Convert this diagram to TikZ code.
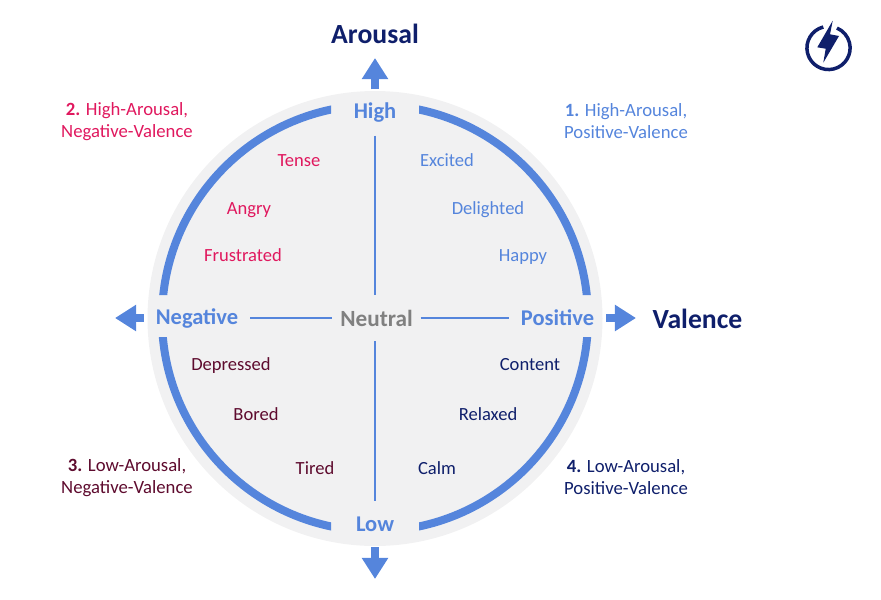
\documentclass[tikz,border=0pt]{standalone}
\usepackage{fontspec}
\setmainfont{Carlito}
\usepackage{xcolor}
\usetikzlibrary{arrows.meta, positioning}
\definecolor{axisblue}{HTML}{5585DC}
\definecolor{navy}{HTML}{0F1F6B}
\definecolor{rosered}{HTML}{E0185E}
\definecolor{wine}{HTML}{5E0B2E}
\definecolor{discgray}{HTML}{F1F1F2}

\begin{document}
\begin{tikzpicture}[
  x=0.025cm, y=-0.025cm,
  axislbl/.style={font=\fontsize{16}{19}\selectfont\bfseries, text=axisblue, inner xsep=0.3cm, inner ysep=0pt, outer sep=0pt, minimum height=1.15cm},
  titlelbl/.style={font=\fontsize{19.7}{23}\selectfont\bfseries, text=navy},
  word/.style={font=\fontsize{13.2}{16}\selectfont, text height=1.1em, text depth=0.18em},
  quadlbl/.style={font=\fontsize{13.3}{15.6}\selectfont, align=center},
  thinline/.style={draw=axisblue, line width=0.05cm},
  blockarr/.style={draw=axisblue, line width=0.2cm, -{Triangle[length=0.53cm, width=0.63cm]}}
]
  \useasboundingbox (0,0) rectangle (881,599);
  \fill[discgray] (375,318.5) circle [radius=227.5];
  \begin{scope}
    \clip (140,80) rectangle (331,295) (419,80) rectangle (610,295)
          (140,337) rectangle (331,560) (419,337) rectangle (610,560);
    \draw[axisblue, line width=0.2cm] (375,318) circle [radius=213];
  \end{scope}

  \node[axislbl] (high) at (375,112.5) {High};
  \node[axislbl] (low) at (375,524) {Low};
  \node[axislbl] (neg) at (197,318) {Negative};
  \node[axislbl] (pos) at (557.5,318) {Positive};
  \node[axislbl, text=gray, inner xsep=0.2cm, font=\fontsize{16.5}{19}\selectfont\bfseries] (neutral) at (376.5,318) {Neutral};

  \coordinate (uptip) at (375,58);
  \coordinate (downtip) at (375,579);
  \coordinate (lefttip) at (115,318);
  \coordinate (righttip) at (636,318);
  \draw[blockarr] (high.north) -- (uptip);
  \draw[blockarr] (low.south) -- (downtip);
  \draw[blockarr] (neg.west) -- (lefttip);
  \draw[blockarr] (pos.east) -- (righttip);

  \draw[thinline] (high.south) -- (high.south |- neutral.north);
  \draw[thinline] (low.north |- neutral.south) -- (low.north);
  \draw[thinline] (neg.east) -- (neutral.west);
  \draw[thinline] (neutral.east) -- (pos.west);

  \node[titlelbl] (arousal) at (375,33.5) {Arousal};
  \node[titlelbl] (valence) at (697.5,319) {Valence};

  \node[quadlbl, text=axisblue] (q1) at (626,121) {\textbf{1.} High-Arousal,\\Positive-Valence};
  \node[quadlbl, text=rosered] (q2) at (127,122) {\textbf{2.} High-Arousal,\\Negative-Valence};
  \node[quadlbl, text=wine] (q3) at (127,478) {\textbf{3.} Low-Arousal,\\Negative-Valence};
  \node[quadlbl, text=navy] (q4) at (626,477) {\textbf{4.} Low-Arousal,\\Positive-Valence};

  \node[word, text=axisblue] (excited) at (447,160) {Excited};
  \node[word, text=axisblue] (delighted) at (488,208) {Delighted};
  \node[word, text=axisblue] (happy) at (523,255) {Happy};
  \node[word, text=rosered] (tense) at (299,160) {Tense};
  \node[word, text=rosered] (angry) at (249,208) {Angry};
  \node[word, text=rosered] (frustrated) at (243,255) {Frustrated};
  \node[word, text=wine] (depressed) at (231,364) {Depressed};
  \node[word, text=wine] (bored) at (256,414) {Bored};
  \node[word, text=wine] (tired) at (315,468) {Tired};
  \node[word, text=navy] (content) at (530,364) {Content};
  \node[word, text=navy] (relaxed) at (488,414) {Relaxed};
  \node[word, text=navy] (calm) at (437,468) {Calm};

  % logo
  \draw[navy, line width=0.0875cm] (823.3,27) arc [start angle=-104, end angle=-427, radius=21.6];
  \fill[navy] (832.7,20.7) -- (817.3,47.3) -- (825.7,48.7) -- (823.3,62.7) -- (839,36) -- (830,34.3) -- cycle;
\end{tikzpicture}
\end{document}
